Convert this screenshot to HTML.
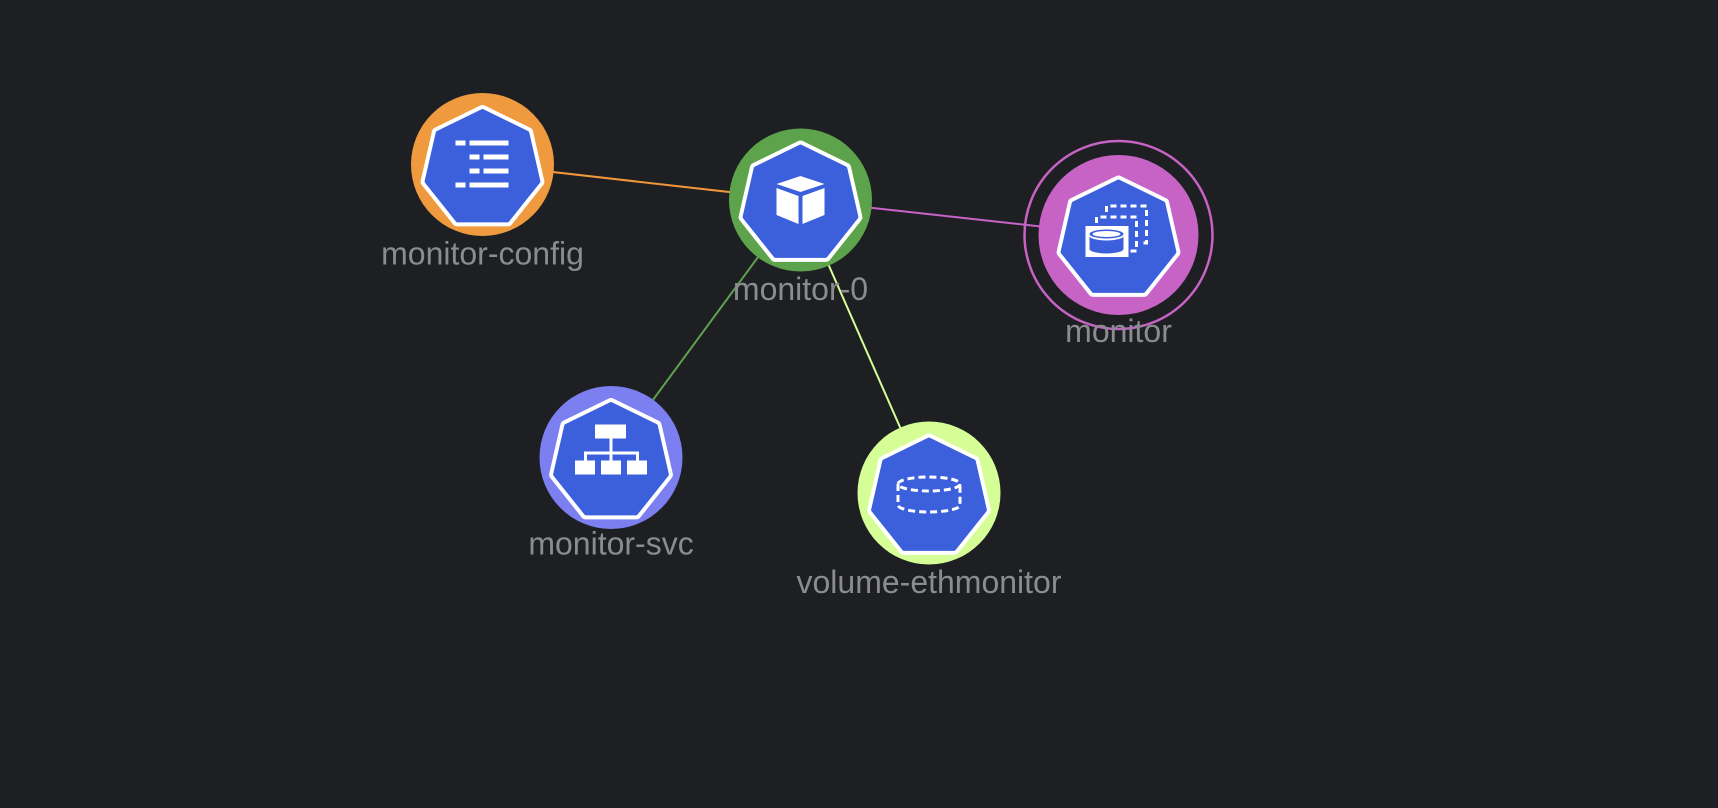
<!DOCTYPE html>
<html><head><meta charset="utf-8"><style>
html,body{margin:0;padding:0;background:#1e1f23;}
svg{display:block}
text{font-family:"Liberation Sans",sans-serif;font-size:32px;fill:#8b8c8f;text-anchor:middle}
</style></head><body>
<svg width="1718" height="808" viewBox="0 0 1718 808">
<defs>
<g id="hep">
<polygon points="0,-56.5 45.6,-34.2 56.9,15.3 25.4,54.9 -25.4,54.9 -56.9,15.3 -45.6,-34.2" fill="#fff" stroke="#fff" stroke-width="10" stroke-linejoin="round" transform="translate(0,2)"/>
<polygon points="0,-55.5 44.8,-33.6 55.9,15 24.9,53.9 -24.9,53.9 -55.9,15 -44.8,-33.6" fill="#3c5fdc" stroke="#3c5fdc" stroke-width="4" stroke-linejoin="round" transform="translate(0,2)"/>
</g>
</defs>
<rect width="1718" height="808" fill="#1e1f23"/>
<line x1="482" y1="164" x2="800" y2="200" stroke="#f0963c" stroke-width="2"/>
<line x1="800" y1="200" x2="1118" y2="235" stroke="#c864c8" stroke-width="2"/>
<line x1="800" y1="200" x2="611" y2="457" stroke="#5fa050" stroke-width="2"/>
<line x1="800" y1="200" x2="929" y2="493" stroke="#d6fe96" stroke-width="2"/>

<g transform="translate(482.5,164.5)">
<circle r="71.5" fill="#ef9a3e"/>
<use href="#hep"/>
<g fill="#fff">
<rect x="-27" y="-24" width="10" height="5"/><rect x="-13" y="-24" width="39" height="5"/>
<rect x="-13" y="-10" width="10" height="5"/><rect x="1" y="-10" width="25" height="5"/>
<rect x="-13" y="4" width="10" height="5"/><rect x="1" y="4" width="25" height="5"/>
<rect x="-27" y="18" width="10" height="5"/><rect x="-13" y="18" width="39" height="5"/>
</g>
<text x="0" y="100">monitor-config</text>
</g>

<g transform="translate(800.5,200)">
<circle r="71.5" fill="#5da34b"/>
<use href="#hep"/>
<polygon points="-24,-16 0,-24 24,-16 0,-8" fill="#fff"/>
<polygon points="-24,-12 -2,-4 -2,24 -24,15" fill="#fff"/>
<polygon points="24,-12 2,-4 2,24 24,15" fill="#fff"/>
<text x="0" y="100">monitor-0</text>
</g>

<g transform="translate(1118.5,235)">
<circle r="94" fill="none" stroke="#c663c4" stroke-width="2.5"/>
<circle r="80" fill="#c663c4"/>
<use href="#hep"/>
<g fill="none" stroke="#fff" stroke-width="3" stroke-dasharray="6,4">
<path d="M-12,-23 V-29 H28 V8 H22"/>
<path d="M-22,-12 V-18 H18 V16 H12"/>
</g>
<rect x="-33" y="-9" width="43" height="31" fill="#fff"/>
<g fill="#3c5fdc"><ellipse cx="-12" cy="-1" rx="17" ry="4.5"/><path d="M-29,1 V14 A17,4.5 0 0 0 5,14 V1 A17,4.5 0 0 1 -29,1 Z"/></g>
<ellipse cx="-12" cy="-1" rx="14" ry="3" fill="#fff"/>
<text x="0" y="107">monitor</text>
</g>

<g transform="translate(611,457.5)">
<circle r="71.5" fill="#7b7ff0"/>
<use href="#hep"/>
<g fill="#fff">
<rect x="-16" y="-33" width="31" height="14"/>
<rect x="-1.5" y="-19" width="3" height="32"/>
<rect x="-27" y="-6" width="55" height="3"/>
<rect x="-27" y="-6" width="3" height="10"/><rect x="25" y="-6" width="3" height="10"/>
<rect x="-36" y="3" width="20" height="14"/><rect x="-10" y="3" width="20" height="14"/><rect x="16" y="3" width="20" height="14"/>
</g>
<text x="0" y="97">monitor-svc</text>
</g>

<g transform="translate(929,493)">
<circle r="71.5" fill="#d6fe96"/>
<use href="#hep"/>
<g fill="none" stroke="#fff" stroke-width="3" stroke-dasharray="7,4">
<ellipse cx="0" cy="-9" rx="31" ry="7"/>
<path d="M-31,-9 V12 A31,7 0 0 0 31,12 V-9"/>
</g>
<text x="0" y="100">volume-ethmonitor</text>
</g>
</svg>
</body></html>
